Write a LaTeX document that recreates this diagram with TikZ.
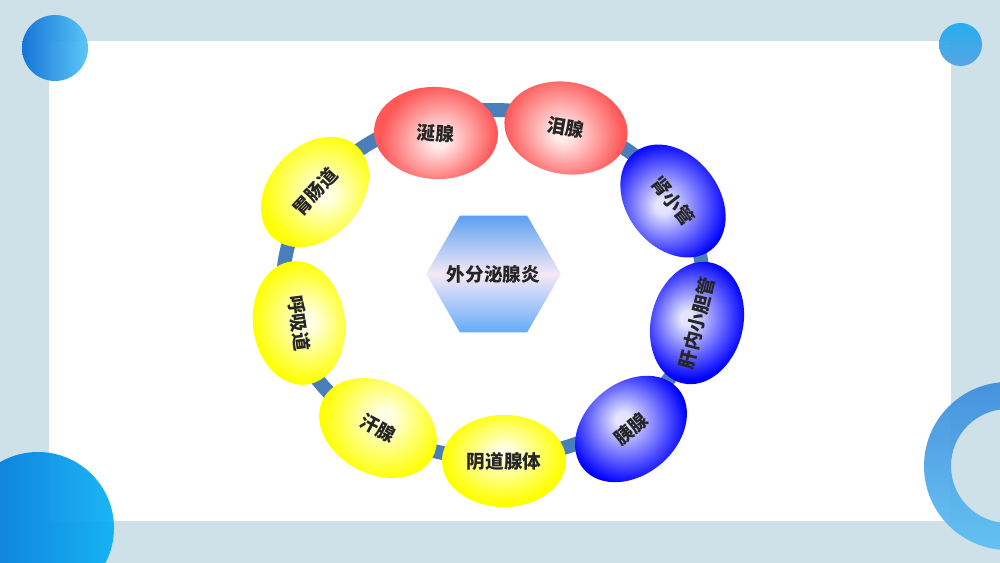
\documentclass[tikz,border=0pt]{standalone}
\usepackage{fontspec}
\newfontfamily\cjk{Noto Sans CJK SC}
\usetikzlibrary{shapes.geometric}
\definecolor{bgc}{RGB}{206,224,232}
\definecolor{ringc}{RGB}{74,126,187}
\definecolor{txt}{RGB}{38,38,38}
\definecolor{redin}{RGB}{255,236,236}
\definecolor{redout}{RGB}{255,88,88}
\definecolor{yelin}{RGB}{255,255,228}
\definecolor{yelout}{RGB}{255,255,0}
\definecolor{bluin}{RGB}{228,228,255}
\definecolor{bluout}{RGB}{0,0,255}
\definecolor{hextop}{RGB}{92,160,242}
\definecolor{hexmid}{RGB}{244,232,246}
\definecolor{hexbot}{RGB}{100,172,250}
\pgfdeclareradialshading{redball}{\pgfpoint{0bp}{-5bp}}{color(0bp)=(redin); color(3bp)=(redin); color(25bp)=(redout); color(50bp)=(redout)}
\pgfdeclareradialshading{yelball}{\pgfpoint{0bp}{-5bp}}{color(0bp)=(yelin); color(3bp)=(yelin); color(25bp)=(yelout); color(50bp)=(yelout)}
\pgfdeclareradialshading{bluball}{\pgfpoint{0bp}{-5bp}}{color(0bp)=(bluin); color(3bp)=(bluin); color(25bp)=(bluout); color(50bp)=(bluout)}
\newcommand\lbl[1]{\makebox[0pt]{#1}}
\tikzset{
  organ/.style={ellipse, minimum width=93pt, minimum height=69pt, inner sep=0pt,
    font=\cjk\bfseries\fontsize{14}{16}\selectfont, text=txt},
  redorg/.style={organ, shading=redball},
  yelorg/.style={organ, shading=yelball},
  bluorg/.style={organ, shading=bluball},
  ringline/.style={draw=ringc, line width=10.5pt},
  hexnode/.style={regular polygon, regular polygon sides=6, minimum size=101pt, inner sep=0pt,
    top color=hextop, bottom color=hexbot, middle color=hexmid,
    font=\cjk\bfseries\fontsize{14}{16}\selectfont, text=txt},
  deco/.style={fill opacity=0.93}
}
\begin{document}
\begin{tikzpicture}[x=0.75pt,y=-0.75pt]
\useasboundingbox (0,0) rectangle (1000,563);
\fill[bgc] (0,0) rectangle (1000,563);
\fill[white] (49,41) rectangle (951,521);
% decorations
\path[deco, left color={rgb,255:red,10;green,110;blue,215}, right color={rgb,255:red,80;green,195;blue,247}] (55,48) circle (33);
\path[deco, top color={rgb,255:red,28;green,170;blue,240}, bottom color={rgb,255:red,78;green,160;blue,226}] (960.5,44.5) circle (21.5);
\path[deco, even odd rule, top color={rgb,255:red,62;green,140;blue,220}, bottom color={rgb,255:red,92;green,192;blue,242}] (1008,466) circle (84) (1008,466) circle (57);
\path[deco, left color={rgb,255:red,0;green,110;blue,215}, right color={rgb,255:red,10;green,176;blue,245}] (38,528) circle (76);
% ring
\draw[ringline] (493,284) ellipse [x radius=210, y radius=174];
% centre
\node[hexnode] (hub) at (493.5,274) {\lbl{外分泌腺炎}};
% organs
\node[redorg, rotate=-3, shading angle=21] (xian) at (436,133) {\lbl{涎腺}};
\node[redorg, rotate=-10, shading angle=-25] (lei) at (566,128) {\lbl{泪腺}};
\node[bluorg, rotate=-52, shading angle=-65] (shen) at (673,201) {\lbl{肾小管}};
\node[bluorg, rotate=76, shading angle=-101] (gan) at (697,323) {\lbl{肝内小胆管}};
\node[bluorg, rotate=40, shading angle=-136] (yi) at (631,429) {\lbl{胰腺}};
\node[yelorg, rotate=0, shading angle=184] (yin) at (504,461) {\lbl{阴道腺体}};
\node[yelorg, rotate=-28, shading angle=141] (han) at (378,428) {\lbl{汗腺}};
\node[yelorg, rotate=-83, shading angle=101] (hu) at (299,323) {\lbl{呼吸道}};
\node[yelorg, rotate=47, shading angle=63] (wei) at (315,192) {\lbl{胃肠道}};
\end{tikzpicture}
\end{document}
